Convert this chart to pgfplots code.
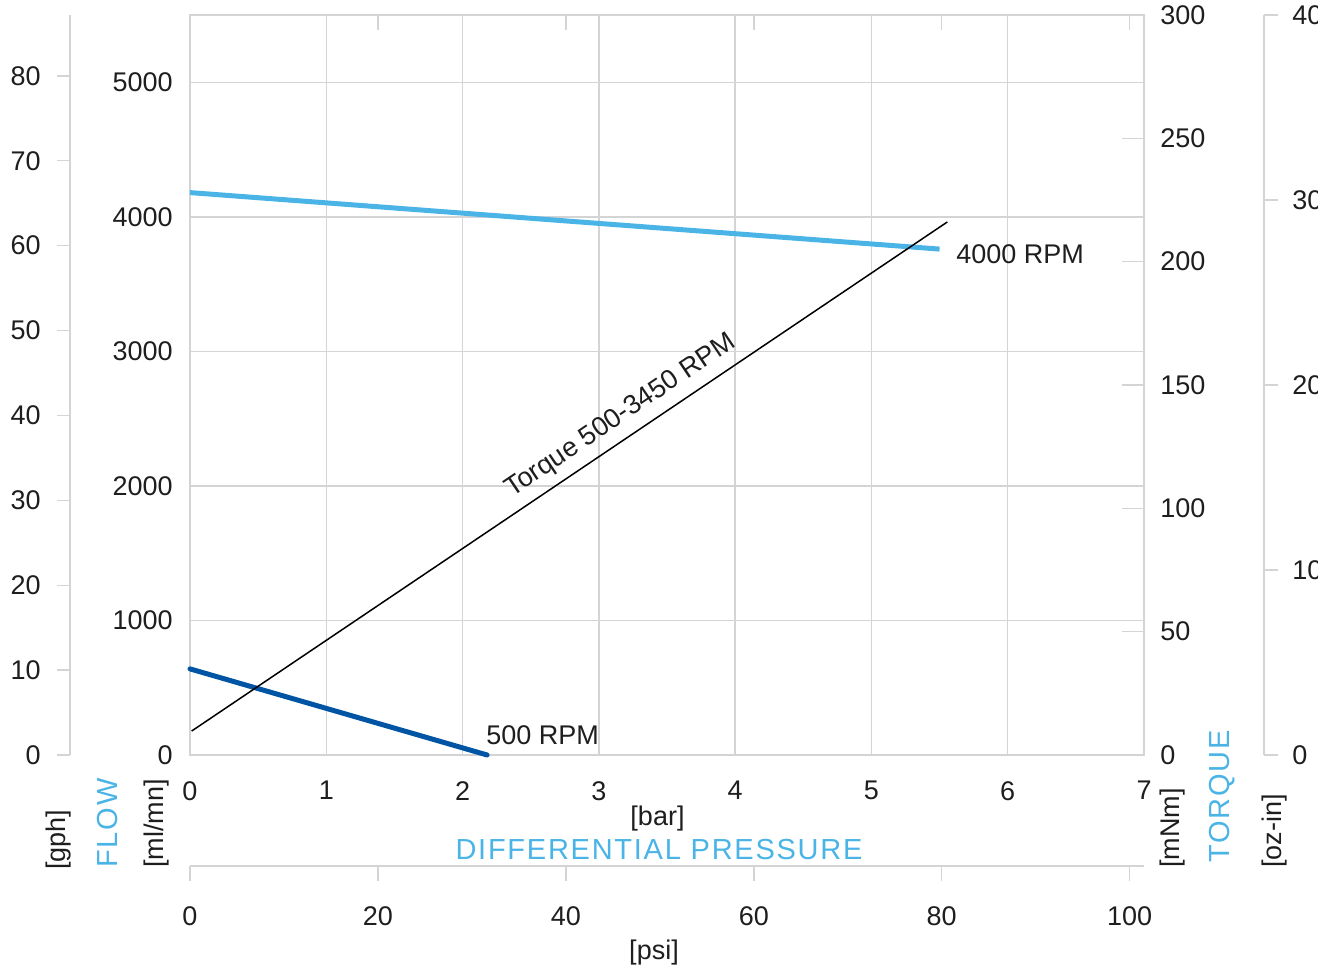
\documentclass[border=0pt]{standalone}
\usepackage{fontspec}
\setmainfont{Liberation Sans}
\newfontfamily\spacedfont[LetterSpace=6]{Liberation Sans}
\usepackage{pgfplots}
\pgfplotsset{compat=1.18}
\definecolor{lblue}{HTML}{4AB4E6}
\definecolor{dblue}{HTML}{0054A4}
\definecolor{gridc}{HTML}{D4D4D4}
\definecolor{txt}{HTML}{1E1E1E}
\newcommand{\lbl}{\fontsize{13.5}{16}\selectfont}
\pgfplotsset{
  base/.style={scale only axis, anchor=south west,
    /pgf/number format/assume math mode=true,
    /pgf/number format/1000 sep={},
    tick label style={font=\lbl, text=txt, inner sep=0pt},
    axis line style={draw=gridc, line width=0.7pt},
    tick style={draw=gridc, line width=0.7pt},
    scaled ticks=false,
    clip=false,
  },
}
\begin{document}
\begin{tikzpicture}
% main flow axis
\begin{axis}[base, at={(95pt,108.5pt)}, width=477pt, height=370pt,
  xmin=0, xmax=7, ymin=0, ymax=5500,
  xtick={0,...,7}, ytick={0,1000,...,5000},
  xtick pos=left, ytick pos=left,
  grid=major, major grid style={draw=gridc, line width=0.7pt},
  major tick length=0pt,
  xticklabel style={anchor=north, yshift=-13pt},
  yticklabel style={anchor=east, xshift=-8.5pt},
]
\addplot[lblue, line width=2.5pt] coordinates {(0,4180) (5.5,3760)};
\addplot[dblue, line width=2.5pt, line cap=round] coordinates {(0,640) (2.18,0)};
\node[anchor=west, inner sep=0pt, font=\lbl, text=txt] at (axis cs:5.62,3719) {4000 RPM};
\node[anchor=west, inner sep=0pt, font=\lbl, text=txt] at (axis cs:2.172,145) {500 RPM};
\end{axis}
% torque mNm axis
\begin{axis}[base, at={(95pt,108.5pt)}, width=477pt, height=370pt,
  xmin=0, xmax=7, ymin=0, ymax=300,
  hide x axis, axis y line*=right, ytick pos=right, yticklabel pos=right,
  ytick={0,50,...,300}, tick align=inside, major tick length=11pt,
  yticklabel style={anchor=west, xshift=8pt},
]
\addplot[black, line width=0.75pt] coordinates {(0.012,9.7) (5.557,216.1)};
\node[rotate=34, inner sep=0pt, font=\lbl, text=txt] at (axis cs:3.162,137.4) {Torque 500-3450 RPM};
\end{axis}
% gph axis
\begin{axis}[base, at={(35pt,108.5pt)}, width=1pt, height=370pt,
  xmin=0, xmax=1, ymin=0, ymax=87.177,
  hide x axis, axis y line*=left, ytick pos=left, yticklabel pos=left,
  ytick={0,10,...,80}, tick align=outside, major tick length=6.5pt,
  yticklabel style={anchor=east, xshift=-8pt},
]
\addplot[draw=none] coordinates {(0,0)};
\end{axis}
% oz-in axis
\begin{axis}[base, at={(631pt,108.5pt)}, width=1pt, height=370pt,
  xmin=0, xmax=1, ymin=0, ymax=40,
  hide x axis, axis y line*=right, ytick pos=right, yticklabel pos=right,
  ytick={0,10,...,40}, tick align=outside, major tick length=7pt,
  yticklabel style={anchor=west, xshift=7pt},
]
\addplot[draw=none] coordinates {(0,0)};
\end{axis}
% psi bottom axis
\begin{axis}[base, at={(95pt,53pt)}, width=477pt, height=1pt,
  xmin=0, xmax=101.526, ymin=0, ymax=1,
  hide y axis, axis x line*=bottom, xtick pos=left, xticklabel pos=left,
  xtick={0,20,...,100}, tick align=outside, major tick length=7.5pt,
  xticklabel style={anchor=north, yshift=-12.5pt},
]
\addplot[draw=none] coordinates {(0,0)};
\end{axis}
% psi top ticks
\begin{axis}[base, at={(95pt,108.5pt)}, width=477pt, height=370pt,
  xmin=0, xmax=101.526, ymin=0, ymax=1,
  hide y axis, axis x line*=top, xtick pos=right, xticklabel pos=right,
  xtick={20,40,...,100}, xticklabels={}, tick align=inside, major tick length=7.5pt,
]
\addplot[draw=none] coordinates {(0,0)};
\end{axis}
% titles
\node[font=\lbl, text=txt, inner sep=0pt] at (328.75pt,76.5pt) {[bar]};
\node[font=\spacedfont\fontsize{14.5}{17}\selectfont, text=lblue, inner sep=0pt] at (329.5pt,61.25pt) {DIFFERENTIAL PRESSURE};
\node[font=\lbl, text=txt, inner sep=0pt] at (327pt,9.5pt) {[psi]};
\node[font=\lbl, text=txt, inner sep=0pt, rotate=90, anchor=west] at (29.5pt,51pt) {[gph]};
\node[font=\spacedfont\fontsize{14.5}{17}\selectfont, text=lblue, inner sep=0pt, rotate=90, anchor=west] at (54pt,52pt) {FLOW};
\node[font=\lbl, text=txt, inner sep=0pt, rotate=90, anchor=west] at (78.5pt,52pt) {[ml/mn]};
\node[font=\lbl, text=txt, inner sep=0pt, rotate=90, anchor=west] at (586.5pt,52pt) {[mNm]};
\node[font=\spacedfont\fontsize{14.5}{17}\selectfont, text=lblue, inner sep=0pt, rotate=90, anchor=west] at (611pt,54.5pt) {TORQUE};
\node[font=\lbl, text=txt, inner sep=0pt, rotate=90, anchor=west] at (637.5pt,52pt) {[oz-in]};
% the reference crops the oz-in tick numbers at its right edge
\fill[white] (659pt,-1pt) rectangle (670pt,490pt);
\pgfresetboundingbox
\path (0,0) rectangle (667pt,486pt);
\end{tikzpicture}
\end{document}
